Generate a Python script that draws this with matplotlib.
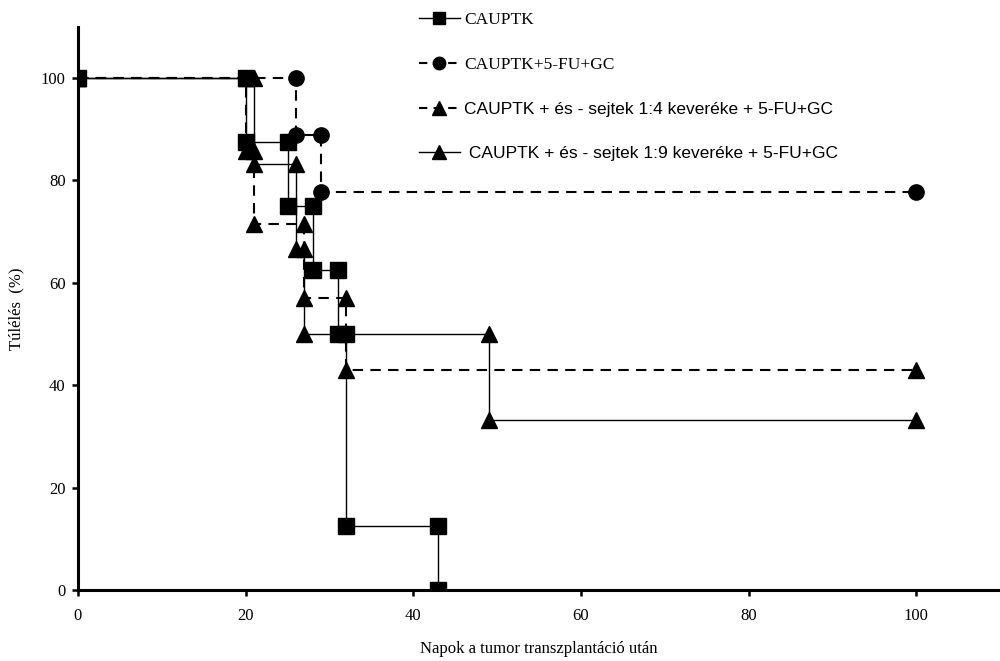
import matplotlib
matplotlib.use("Agg")
import matplotlib.pyplot as plt
from matplotlib.lines import Line2D

# Kaplan-Meier steps (day, survival %)
sq_days = [0, 20, 20, 25, 25, 28, 28, 31, 31, 32, 32, 43, 43]
sq_surv = [100, 100, 87.5, 87.5, 75, 75, 62.5, 62.5, 50, 50, 12.5, 12.5, 0]

ci_days = [0, 26, 26, 29, 29, 100]
ci_surv = [100, 100, 88.9, 88.9, 77.8, 77.8]

t4_days = [0, 20, 20, 21, 21, 27, 27, 32, 32, 100]
t4_surv = [100, 100, 85.7, 85.7, 71.4, 71.4, 57.1, 57.1, 42.9, 42.9]

t9_days = [0, 21, 21, 26, 26, 27, 27, 49, 49, 100]
t9_surv = [100, 100, 83.3, 83.3, 66.7, 66.7, 50, 50, 33.3, 33.3]

labels = ["CAUPTK",
          "CAUPTK+5-FU+GC",
          "CAUPTK + és - sejtek 1:4 keveréke + 5-FU+GC",
          " CAUPTK + és - sejtek 1:9 keveréke + 5-FU+GC"]

serif = "Liberation Serif"
sans = "Liberation Sans"

fig = plt.figure(figsize=(10, 6.61), dpi=100)
ax = fig.add_axes([0.078, 0.1074, 0.922, 0.852])

ms = 11
dash = (0, (5, 3.5))
ax.plot(t9_days, t9_surv, color="black", lw=1.0, marker="^", ms=ms + 1, zorder=3)
ax.plot(t4_days, t4_surv, color="black", lw=1.5, ls=dash, marker="^", ms=ms + 1, zorder=3)
ax.plot(ci_days, ci_surv, color="black", lw=1.5, ls=dash, marker="o", ms=ms, zorder=3)
ax.plot(sq_days, sq_surv, color="black", lw=1.0, marker="s", ms=ms, zorder=4)

ax.set_xlim(0, 110)
ax.set_ylim(0, 110)
ax.set_xticks([0, 20, 40, 60, 80, 100])
ax.set_yticks([0, 20, 40, 60, 80, 100])
for side in ["top", "right"]:
    ax.spines[side].set_visible(False)
for side in ["left", "bottom"]:
    ax.spines[side].set_linewidth(2.2)
ax.tick_params(direction="out", length=4, width=1.8, labelsize=12, pad=5)
for t in ax.get_xticklabels() + ax.get_yticklabels():
    t.set_fontfamily(serif)
ax.tick_params(axis="x", pad=9)

ax.set_xlabel("Napok a tumor transzplantáció után", fontfamily=serif, fontsize=12, labelpad=12)
ax.set_ylabel("Túlélés  (%)", fontfamily=serif, fontsize=12, labelpad=12)

handles = [
    Line2D([], [], color="black", lw=1.0, marker="s", ms=9),
    Line2D([], [], color="black", lw=1.5, ls=(0, (4, 3)), marker="o", ms=9),
    Line2D([], [], color="black", lw=1.5, ls=(0, (4, 3)), marker="^", ms=10),
    Line2D([], [], color="black", lw=1.0, marker="^", ms=10),
]
leg = fig.legend(handles, labels, loc="upper left", bbox_to_anchor=(0.403, 1.005),
                 frameon=False, handlelength=2.4, handletextpad=0.2,
                 labelspacing=1.65, fontsize=12.5)
for i, t in enumerate(leg.get_texts()):
    t.set_fontfamily(serif if i < 2 else sans)

fig.savefig("out.png", dpi=100)
